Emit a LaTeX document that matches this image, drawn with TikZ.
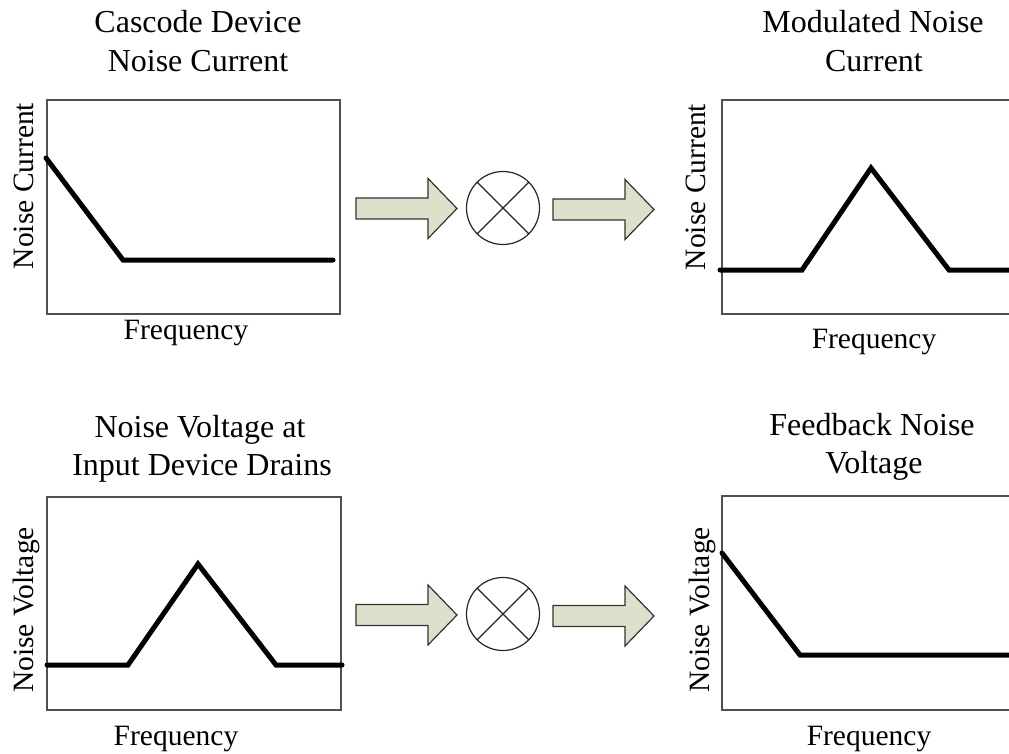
\documentclass[tikz,border=0pt]{standalone}
\usepackage{fontspec}
\setmainfont{Liberation Serif}
\definecolor{arrowfill}{RGB}{221,225,204}
\definecolor{boxgray}{RGB}{80,80,80}
\begin{document}
\begin{tikzpicture}[x=1pt,y=-1pt,
  lbl/.style={font=\fontsize{29.5}{36}\selectfont, inner sep=0pt, anchor=base},
  ttl/.style={font=\fontsize{32}{39}\selectfont, inner sep=0pt, anchor=base},
  ylbl/.style={lbl, rotate=90},
  plotbox/.style={draw=boxgray, line width=1.4pt},
  curve/.style={line width=5pt, line cap=round, line join=miter},
  arrowshape/.style={draw=black!80, line width=1.2pt, fill=arrowfill, line join=miter},
  mixer/.style={circle, draw=black!85, line width=1.2pt, minimum size=73pt, inner sep=0pt},
  xline/.style={draw=black!85, line width=1.1pt},
  fatarrow/.pic={\draw[arrowshape] (-50.5,-10.5) -- (21.5,-10.5) -- (21.5,-30) -- (50.5,0)
      -- (21.5,30) -- (21.5,10.5) -- (-50.5,10.5) -- cycle;}]
\useasboundingbox (0,0) rectangle (1009,754);
\clip (0,0) rectangle (1009,754);

% ---------- titles ----------
\node[ttl] (t1a) at (198,33) {Cascode Device};
\node[ttl] (t1b) at (198,72) {Noise Current};
\node[ttl] (t2a) at (873,33) {Modulated Noise};
\node[ttl] (t2b) at (874,72) {Current};
\node[ttl] (t3a) at (200,437) {Noise Voltage at};
\node[ttl] (t3b) at (202,475) {Input Device Drains};
\node[ttl] (t4a) at (872,435) {Feedback Noise};
\node[ttl] (t4b) at (874,473) {Voltage};

% ---------- plot boxes ----------
\draw[plotbox] (47,100) rectangle (340,314);
\draw[plotbox] (722,100) rectangle (1020,314);
\draw[plotbox] (47,497) rectangle (341,710);
\draw[plotbox] (722,496) rectangle (1020,710);

% ---------- axis labels ----------
\node[ylbl] (y1) at (33,186) {Noise Current};
\node[ylbl] (y2) at (705,187) {Noise Current};
\node[ylbl] (y3) at (33,610) {Noise Voltage};
\node[ylbl] (y4) at (709,610) {Noise Voltage};
\node[lbl] (x1) at (186,339) {Frequency};
\node[lbl] (x2) at (874,348) {Frequency};
\node[lbl] (x3) at (176,745) {Frequency};
\node[lbl] (x4) at (869,745) {Frequency};

% ---------- curves ----------
\draw[curve] (46,158) -- (123,260) -- (333,260);
\draw[curve] (720,270) -- (802,270) -- (871,168) -- (949,270) -- (1020,270);
\draw[curve] (47,665) -- (128,665) -- (198,564) -- (276,665) -- (342,665);
\draw[curve] (722,553) -- (800,655) -- (1020,655);

% ---------- arrows and mixers ----------
\pic (a1) at (406.5,208.5) {fatarrow};
\node[mixer] (m1) at (503,208) {};
\draw[xline] (m1.45) -- (m1.225) (m1.135) -- (m1.315);
\pic (a2) at (603.5,209.5) {fatarrow};

\pic (a3) at (406.5,615) {fatarrow};
\node[mixer] (m2) at (503,614) {};
\draw[xline] (m2.45) -- (m2.225) (m2.135) -- (m2.315);
\pic (a4) at (603.5,616) {fatarrow};
\end{tikzpicture}
\end{document}
